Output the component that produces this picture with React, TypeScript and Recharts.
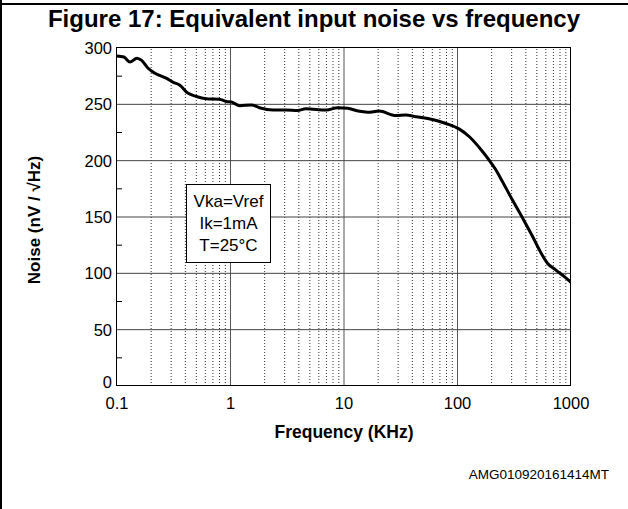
import React from "react";
import { Line, LineChart, ReferenceLine, XAxis, YAxis } from "recharts";

const frequency = [
  0.1, 0.115, 0.13, 0.15, 0.165, 0.188, 0.216, 0.274, 0.313, 0.358, 0.42, 0.5, 0.61, 0.8,
  0.92, 1.02, 1.21, 1.53, 1.8, 2.37, 3.1, 3.9, 4.6, 7.0, 8.8, 10.8, 13.3, 16.2, 20.4, 28.6,
  35, 43, 60, 79, 104, 128, 162, 190, 214, 235, 305, 375, 460, 527, 620, 733, 900, 1000
];
const noise = [
  293, 292, 287.5, 291, 289, 282, 277.5, 273, 269.5, 267, 260, 257, 255, 254.5,
  252.5, 252, 248.7, 249.5, 247, 245, 245, 244.5, 246, 245, 247, 246.5, 244, 243, 244, 240,
  240.5, 239, 236.6, 233, 228, 221, 209.5, 200.5, 193, 186, 165, 149, 132.5, 120.7, 109, 103, 96, 92
];

const xTicks = [0.1, 1, 10, 100, 1000];
const decades = [0.1, 1, 10, 100];
const minorSteps = [2, 3, 4, 5, 6, 7, 8, 9];
const yTicks = [0, 25, 50, 75, 100, 125, 150, 175, 200, 225, 250, 275, 300];
const yGrid = [50, 100, 150, 200, 250];
const conditions = ["Vka=Vref", "Ik=1mA", "T=25°C"];

const data = frequency.map((f, i) => ({ f, v: noise[i] }));
const minorX = decades.flatMap((d) => minorSteps.map((m) => +(d * m).toPrecision(3)));

const font = "'Liberation Sans', Arial, sans-serif";

const YTick = (props: any) => {
  const { x, y, payload } = props;
  const v = payload.value as number;
  if (v % 50 !== 0) {
    return <line x1={x} y1={y} x2={x + 5} y2={y} stroke="#000" strokeWidth={1} />;
  }
  return (
    <text x={x - 5} y={y} dy={v === 0 ? 2 : 6} textAnchor="end" fontSize={16.5} fontFamily={font} fill="#000">
      {v}
    </text>
  );
};

export default function App() {
  return (
    <div style={{ position: "relative", width: 628, height: 509, background: "#fff", fontFamily: font }}>
      <style>{"body{margin:0}"}</style>
      <div style={{ position: "absolute", left: 0, top: 3, width: 628, height: 2, background: "#000" }} />
      <div style={{ position: "absolute", left: 0, top: 0, width: 2, height: 509, background: "#000" }} />
      <div
        style={{
          position: "absolute", left: 0, top: 5, width: 628, textAlign: "center",
          fontSize: 24, fontWeight: "bold", color: "#000", whiteSpace: "nowrap"
        }}
      >
        Figure 17: Equivalent input noise vs frequency
      </div>
      <LineChart
        width={628}
        height={509}
        data={data}
        margin={{ top: 48, right: 57, bottom: 93, left: 0 }}
        style={{ position: "absolute", left: 0, top: 0 }}
      >
        <XAxis
          dataKey="f"
          type="number"
          scale="log"
          domain={[0.1, 1000]}
          ticks={xTicks}
          allowDataOverflow
          axisLine={false}
          tickLine={false}
          height={30}
          tickMargin={5}
          tick={{ fontSize: 16.5, fill: "#000", fontFamily: font }}
          tickFormatter={(v: number) => String(v)}
        />
        <YAxis
          type="number"
          domain={[0, 300]}
          ticks={yTicks}
          width={117}
          axisLine={false}
          tickLine={false}
          tickSize={0}
          tickMargin={0}
          interval={0}
          tick={<YTick />}
        />
        {minorX.map((m) => (
          <ReferenceLine key={`m${m}`} x={m} stroke="#333" strokeWidth={1} strokeDasharray="1 2" />
        ))}
        {xTicks.slice(1, -1).map((t) => (
          <ReferenceLine key={`x${t}`} x={t} stroke="#555" strokeWidth={1} />
        ))}
        {yGrid.map((t) => (
          <ReferenceLine key={`y${t}`} y={t} stroke="#444" strokeWidth={1} />
        ))}
        <Line
          type="monotone"
          dataKey="v"
          stroke="#000"
          strokeWidth={3}
          dot={false}
          isAnimationActive={false}
        />
      </LineChart>
      <div
        style={{
          position: "absolute", left: 116, top: 47, width: 455, height: 339,
          border: "1.5px solid #000", boxSizing: "border-box", pointerEvents: "none"
        }}
      />
      <div
        style={{
          position: "absolute", left: 186, top: 184, width: 85, height: 79, background: "#fff",
          border: "1px solid #000", boxSizing: "border-box", display: "flex", flexDirection: "column",
          justifyContent: "center", alignItems: "center", fontSize: 17, lineHeight: "22px", color: "#000"
        }}
      >
        {conditions.map((c) => (
          <div key={c}>{c}</div>
        ))}
      </div>
      <div
        style={{
          position: "absolute", left: 344, top: 422, transform: "translateX(-50%)",
          fontSize: 17.5, fontWeight: "bold", whiteSpace: "nowrap", color: "#000"
        }}
      >
        Frequency (KHz)
      </div>
      <div
        style={{
          position: "absolute", left: 35, top: 220, transform: "translate(-50%, -50%) rotate(-90deg)",
          fontSize: 17, fontWeight: "bold", whiteSpace: "nowrap", color: "#000"
        }}
      >
        Noise (nV / √Hz)
      </div>
      <div
        style={{
          position: "absolute", right: 19, top: 467, fontSize: 13.5, whiteSpace: "nowrap", color: "#000"
        }}
      >
        AMG010920161414MT
      </div>
    </div>
  );
}
